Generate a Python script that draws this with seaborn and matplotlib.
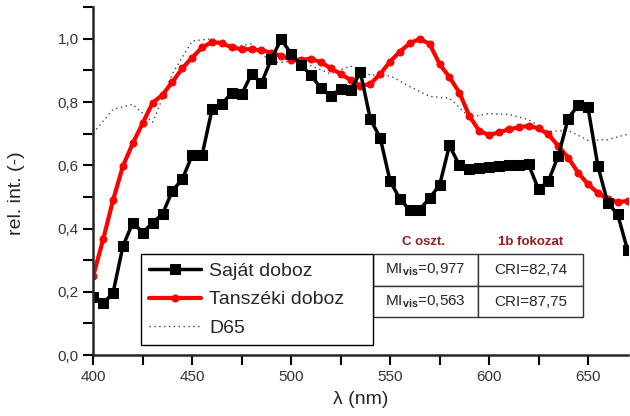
import numpy as np
import pandas as pd
import seaborn as sns
import matplotlib.pyplot as plt
from matplotlib.ticker import MultipleLocator, FuncFormatter

# hullamhossz (nm), 5 nm lepes
wavelength = list(range(400, 675, 5))

# Saját doboz
sajat = [0.182, 0.163, 0.197, 0.345, 0.419, 0.387, 0.419, 0.446, 0.520, 0.556,
         0.633, 0.633, 0.777, 0.794, 0.830, 0.825, 0.889, 0.860, 0.937, 0.999,
         0.952, 0.917, 0.885, 0.844, 0.820, 0.841, 0.838, 0.894, 0.746, 0.687,
         0.550, 0.493, 0.458, 0.460, 0.497, 0.537, 0.663, 0.600, 0.587, 0.592,
         0.596, 0.598, 0.600, 0.601, 0.603, 0.524, 0.550, 0.630, 0.748, 0.790,
         0.783, 0.598, 0.481, 0.445, 0.332]

# Tanszéki doboz
tanszeki = [0.251, 0.366, 0.490, 0.598, 0.670, 0.734, 0.798, 0.823, 0.864, 0.907,
            0.941, 0.973, 0.990, 0.986, 0.973, 0.967, 0.967, 0.964, 0.956, 0.946,
            0.934, 0.934, 0.937, 0.926, 0.907, 0.889, 0.870, 0.852, 0.857, 0.889,
            0.928, 0.960, 0.986, 1.000, 0.984, 0.920, 0.879, 0.830, 0.757, 0.709,
            0.696, 0.704, 0.714, 0.720, 0.725, 0.717, 0.698, 0.661, 0.624, 0.577,
            0.540, 0.513, 0.492, 0.484, 0.487]

# D65 (normalt)
d65 = [0.702, 0.740, 0.777, 0.785, 0.793, 0.764, 0.736, 0.813, 0.890, 0.942,
       0.993, 0.997, 1.000, 0.988, 0.975, 0.979, 0.984, 0.954, 0.924, 0.926,
       0.928, 0.922, 0.915, 0.902, 0.889, 0.902, 0.914, 0.900, 0.886, 0.885,
       0.883, 0.866, 0.849, 0.833, 0.818, 0.815, 0.813, 0.783, 0.753, 0.758,
       0.764, 0.762, 0.761, 0.753, 0.744, 0.726, 0.707, 0.709, 0.710, 0.695,
       0.679, 0.680, 0.681, 0.690, 0.698]

series_labels = ['Saját doboz', 'Tanszéki doboz', 'D65']
table_headers = ['C oszt.', '1b fokozat']
mi_vis = ['0,977', '0,563']
cri = ['82,74', '87,75']

df = pd.DataFrame({'wl': wavelength, 'sajat': sajat, 'tanszeki': tanszeki, 'd65': d65})

sns.set_style('ticks')
plt.rcParams['font.family'] = ['Liberation Sans', 'DejaVu Sans']
plt.rcParams['mathtext.fontset'] = 'custom'
plt.rcParams['mathtext.rm'] = 'Liberation Sans'
plt.rcParams['mathtext.bf'] = 'Liberation Sans:bold'

fig = plt.figure(figsize=(6.3, 4.16), dpi=100)
ax = fig.add_axes([0.1481, 0.1466, 0.848, 0.836])

sns.lineplot(data=df, x='wl', y='d65', ax=ax, color='#444444', linewidth=1,
             linestyle=(0, (1, 2.5)), label=series_labels[2])
sns.lineplot(data=df, x='wl', y='tanszeki', ax=ax, color='#ff0000', linewidth=3,
             marker='o', markersize=5, markeredgecolor='#ff0000', label=series_labels[1])
sns.lineplot(data=df, x='wl', y='sajat', ax=ax, color='black', linewidth=2.5,
             marker='s', markersize=6.5, markeredgecolor='black', label=series_labels[0])

ax.set_xlim(400, 670)
ax.set_ylim(0, 1.1)
ax.xaxis.set_major_locator(MultipleLocator(50))
ax.xaxis.set_minor_locator(MultipleLocator(25))
ax.yaxis.set_major_locator(MultipleLocator(0.2))
ax.yaxis.set_minor_locator(MultipleLocator(0.1))
ax.yaxis.set_major_formatter(FuncFormatter(lambda v, p: f'{v:.1f}'.replace('.', ',')))
ax.tick_params(which='both', direction='out', length=7, width=1.5, colors='black',
               labelcolor='#333333', labelsize=11)
for s in ['left', 'bottom']:
    ax.spines[s].set_linewidth(1.8)
sns.despine(ax=ax)

ax.set_xlabel('λ (nm)', fontsize=14, labelpad=5)
ax.set_ylabel('rel. int. (-)', fontsize=14)
ax.yaxis.set_label_coords(-0.128, 0.466)

# legenda
handles, labels = ax.get_legend_handles_labels()
order = [labels.index(l) for l in series_labels]
leg = ax.legend([handles[i] for i in order], [labels[i] for i in order],
                loc='upper left', bbox_to_anchor=(0.0887, 0.2896, 0.4353, 0.0),
                mode='expand', fontsize=14, frameon=True, fancybox=False,
                edgecolor='black', framealpha=1, handlelength=2.7,
                handletextpad=0.4, labelspacing=0.55, borderpad=0.42,
                borderaxespad=0, numpoints=1)
leg.get_frame().set_linewidth(1)

# tablazat
cell_text = [[r'MI$_{\mathbf{vis}}$=' + mi_vis[0], 'CRI=' + cri[0]],
             [r'MI$_{\mathbf{vis}}$=' + mi_vis[1], 'CRI=' + cri[1]]]
tbl = ax.table(cellText=cell_text, cellLoc='center',
               bbox=[0.524, 0.1084, 0.393, 0.1812], zorder=5)
tbl.auto_set_font_size(False)
for (r, c), cell in tbl.get_celld().items():
    cell.set_edgecolor('#333333')
    cell.set_linewidth(1)
    cell.set_facecolor('white')
    cell.get_text().set_fontsize(11)

ax.text(0.618, 0.326, table_headers[0], transform=ax.transAxes, ha='center', va='center',
        fontsize=9.5, fontweight='bold', color='#9b1b1b')
ax.text(0.818, 0.326, table_headers[1], transform=ax.transAxes, ha='center', va='center',
        fontsize=9.5, fontweight='bold', color='#9b1b1b')

plt.savefig('out.png', dpi=100)
